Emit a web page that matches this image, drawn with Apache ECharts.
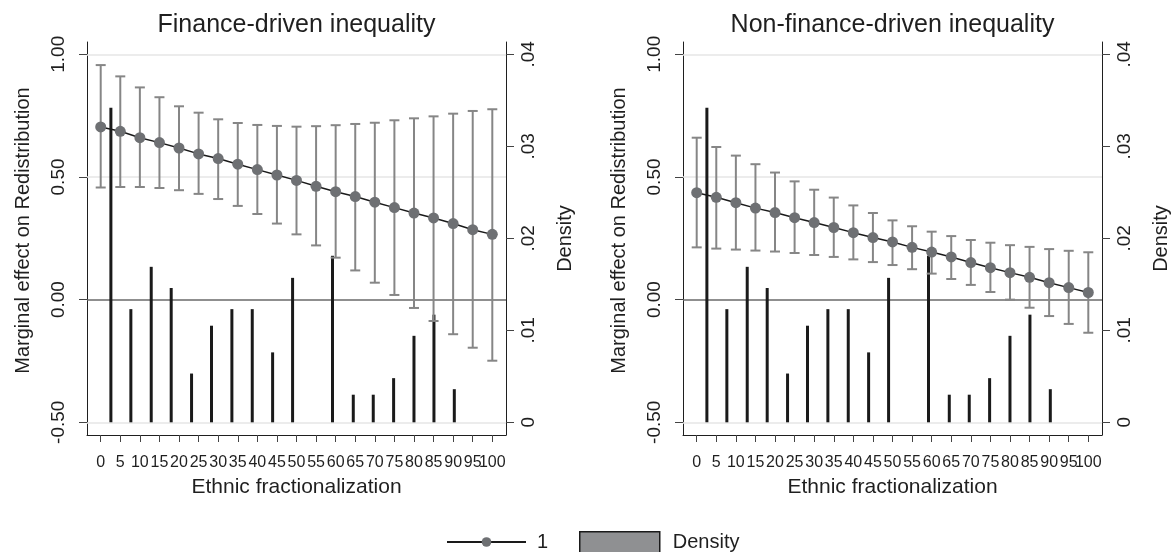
<!DOCTYPE html>
<html>
<head>
<meta charset="utf-8">
<script src="https://cdn.jsdelivr.net/npm/echarts@6/dist/echarts.min.js"></script>
<style>
  html, body { margin: 0; padding: 0; background: #fff; }
  #chart { width: 1175px; height: 552px; }
</style>
</head>
<body>
<div id="chart"></div>
<script>
// x positions of the marginal effects (ethnic fractionalization)
var fracTicks = [0, 5, 10, 15, 20, 25, 30, 35, 40, 45, 50, 55, 60, 65, 70, 75, 80, 85, 90, 95, 100];

// Finance-driven inequality: estimate + 95% CI
var finEst = [0.704, 0.686, 0.660, 0.640, 0.618, 0.594, 0.575, 0.552, 0.530, 0.508, 0.486, 0.462, 0.440, 0.420, 0.397, 0.375, 0.353, 0.333, 0.310, 0.285, 0.266];
var finHi  = [0.956, 0.910, 0.865, 0.825, 0.788, 0.762, 0.735, 0.720, 0.712, 0.708, 0.705, 0.707, 0.711, 0.716, 0.721, 0.731, 0.739, 0.747, 0.758, 0.769, 0.776];
var finLo  = [0.457, 0.459, 0.459, 0.455, 0.446, 0.431, 0.410, 0.382, 0.349, 0.310, 0.266, 0.221, 0.171, 0.119, 0.069, 0.019, -0.034, -0.087, -0.141, -0.196, -0.249];

// Non-finance-driven inequality
var nonEst = [0.436, 0.417, 0.395, 0.373, 0.355, 0.334, 0.314, 0.294, 0.273, 0.253, 0.235, 0.213, 0.194, 0.174, 0.151, 0.130, 0.110, 0.091, 0.069, 0.049, 0.029];
var nonHi  = [0.660, 0.622, 0.587, 0.552, 0.518, 0.482, 0.448, 0.416, 0.384, 0.353, 0.323, 0.299, 0.277, 0.259, 0.243, 0.232, 0.222, 0.215, 0.206, 0.199, 0.193];
var nonLo  = [0.213, 0.208, 0.204, 0.200, 0.196, 0.190, 0.182, 0.174, 0.164, 0.153, 0.141, 0.124, 0.106, 0.084, 0.060, 0.031, 0.000, -0.033, -0.067, -0.099, -0.135];

// histogram of ethnic fractionalization (bin middles and density)
var binMid  = [2.6, 7.7, 12.9, 18.0, 23.2, 28.3, 33.5, 38.7, 43.9, 49.0, 59.2, 64.5, 69.6, 74.8, 80.0, 85.1, 90.3];
var density = [0.0342, 0.0123, 0.0169, 0.0146, 0.0053, 0.0105, 0.0123, 0.0123, 0.0076, 0.0157, 0.0181, 0.0030, 0.0030, 0.0048, 0.0094, 0.0117, 0.0036];

var marginTicks  = [-0.5, 0, 0.5, 1];
var densityTicks = [0, 0.01, 0.02, 0.03, 0.04];
var panelTitles  = ['Finance-driven inequality', 'Non-finance-driven inequality'];

var chart = echarts.init(document.getElementById('chart'));
var ink = '#1f1f1f';
var gridLeft = [87, 683];

// the last x label overlaps its neighbour, so it goes on an overlay axis
var fracMain = fracTicks.slice(0, -1);
var fracLast = fracTicks.slice(-1);

function zip2(a, b) {
    return a.map(function (v, i) { return [v, b[i]]; });
}
function zip3(a, b, c) {
    return a.map(function (v, i) { return [v, b[i], c[i]]; });
}

// error bar with caps
function ciItem(params, api) {
    var x = api.value(0);
    var lo = api.coord([x, api.value(1)]);
    var hi = api.coord([x, api.value(2)]);
    var cap = 5;
    var st = { stroke: '#868686', lineWidth: 2 };
    return {
        type: 'group',
        children: [
            { type: 'line', shape: { x1: lo[0], y1: lo[1], x2: hi[0], y2: hi[1] }, style: st },
            { type: 'line', shape: { x1: lo[0] - cap, y1: lo[1], x2: lo[0] + cap, y2: lo[1] }, style: st },
            { type: 'line', shape: { x1: hi[0] - cap, y1: hi[1], x2: hi[0] + cap, y2: hi[1] }, style: st }
        ]
    };
}

// horizontal reference lines: light grid at the ticks, dark one at zero
var refLines = marginTicks.map(function (v) {
    return {
        yAxis: v,
        lineStyle: v === 0
            ? { color: '#6a6a6a', width: 1.5, type: 'solid' }
            : { color: '#e6e6e6', width: 1.5, type: 'solid' }
    };
});

var grids = [], xAxes = [], yAxes = [], series = [], titles = [];
var panels = [[finEst, finLo, finHi], [nonEst, nonLo, nonHi]];

panels.forEach(function (p, i) {
    grids.push({ left: gridLeft[i], top: 42, width: 419, height: 393 });
    titles.push({
        text: panelTitles[i],
        left: gridLeft[i] + 209.5,
        textAlign: 'center',
        top: 13,
        padding: 0,
        textStyle: { fontSize: 25, fontWeight: 'normal', color: ink }
    });
    xAxes.push({
        gridIndex: i,
        type: 'value',
        position: 'bottom',
        min: -3.5,
        max: 103.5,
        name: 'Ethnic fractionalization',
        nameLocation: 'middle',
        nameGap: 42,
        nameTextStyle: { fontSize: 21, color: ink },
        axisLine: { show: true, onZero: false, lineStyle: { color: ink, width: 1 } },
        axisTick: { show: true, length: 7, customValues: fracTicks, lineStyle: { color: '#444' } },
        axisLabel: {
            customValues: fracMain, fontSize: 16, color: ink, margin: 20,
            showMinLabel: true, showMaxLabel: true
        },
        splitLine: { show: false }
    });
    xAxes.push({
        gridIndex: i,
        type: 'value',
        position: 'bottom',
        offset: 0,
        min: -3.5,
        max: 103.5,
        axisLine: { show: false, onZero: false },
        axisTick: { show: false },
        axisLabel: {
            customValues: fracLast, fontSize: 16, color: ink, margin: 20,
            showMinLabel: true, showMaxLabel: true
        },
        splitLine: { show: false }
    });
    yAxes.push({
        gridIndex: i,
        type: 'value',
        position: 'left',
        min: -0.5518,
        max: 1.0501,
        name: 'Marginal effect on Redistribution',
        nameLocation: 'middle',
        nameRotate: 90,
        nameGap: 54,
        nameTextStyle: { fontSize: 20, color: ink, padding: [0, 0, 0, 16] },
        axisLine: { show: true, onZero: false, lineStyle: { color: ink, width: 1 } },
        axisTick: { show: true, length: 8, customValues: marginTicks, lineStyle: { color: '#444' } },
        axisLabel: {
            customValues: marginTicks,
            rotate: 90,
            fontSize: 19,
            color: ink,
            margin: 19,
            formatter: function (v) { return v.toFixed(2); }
        },
        splitLine: { show: false }
    });
    yAxes.push({
        gridIndex: i,
        type: 'value',
        position: 'right',
        min: -0.00138,
        max: 0.041337,
        name: 'Density',
        nameLocation: 'middle',
        nameRotate: 90,
        nameGap: 49,
        nameTextStyle: { fontSize: 20, color: ink },
        axisLine: { show: true, onZero: false, lineStyle: { color: ink, width: 1 } },
        axisTick: { show: true, length: 8, customValues: densityTicks, lineStyle: { color: '#444' } },
        axisLabel: {
            customValues: densityTicks,
            rotate: 90,
            fontSize: 19,
            color: ink,
            margin: 13,
            formatter: function (v) { return v === 0 ? '0' : String(v).replace(/^0/, ''); }
        },
        splitLine: { show: false }
    });

    series.push({
        name: 'Density',
        type: 'bar',
        xAxisIndex: i * 2,
        yAxisIndex: i * 2 + 1,
        barWidth: 3,
        itemStyle: { color: '#1a1a1a' },
        data: zip2(binMid, density),
        z: 2
    });
    series.push({
        name: 'CI',
        type: 'custom',
        xAxisIndex: i * 2,
        yAxisIndex: i * 2,
        renderItem: ciItem,
        encode: { x: 0, y: [1, 2] },
        data: zip3(fracTicks, p[1], p[2]),
        z: 3
    });
    series.push({
        name: '1',
        type: 'line',
        xAxisIndex: i * 2,
        yAxisIndex: i * 2,
        symbol: 'circle',
        symbolSize: 11,
        showAllSymbol: true,
        itemStyle: { color: '#6e7073' },
        lineStyle: { color: '#1a1a1a', width: 1.5 },
        data: zip2(fracTicks, p[0]),
        z: 4,
        markLine: {
            silent: true,
            symbol: 'none',
            z: 1,
            label: { show: false },
            data: refLines
        }
    });
});

var option = {
    animation: false,
    backgroundColor: '#fff',
    textStyle: { fontFamily: '"Liberation Sans", Arial, Helvetica, sans-serif' },
    title: titles,
    grid: grids,
    xAxis: xAxes,
    yAxis: yAxes,
    legend: [{
        left: 446,
        top: 532,
        padding: 0,
        itemWidth: 79,
        itemHeight: 12,
        textStyle: { fontSize: 20, color: ink, padding: [0, 0, 0, 6] },
        data: ['1']
    }, {
        left: 579,
        top: 531,
        padding: 0,
        itemWidth: 80,
        itemHeight: 21,
        textStyle: { fontSize: 20, color: ink, padding: [0, 0, 0, 8] },
        data: [{
            name: 'Density',
            icon: 'rect',
            itemStyle: { color: '#8f9092', borderColor: '#1a1a1a', borderWidth: 1.5 }
        }]
    }],
    series: series
};

chart.setOption(option);
</script>
</body>
</html>
